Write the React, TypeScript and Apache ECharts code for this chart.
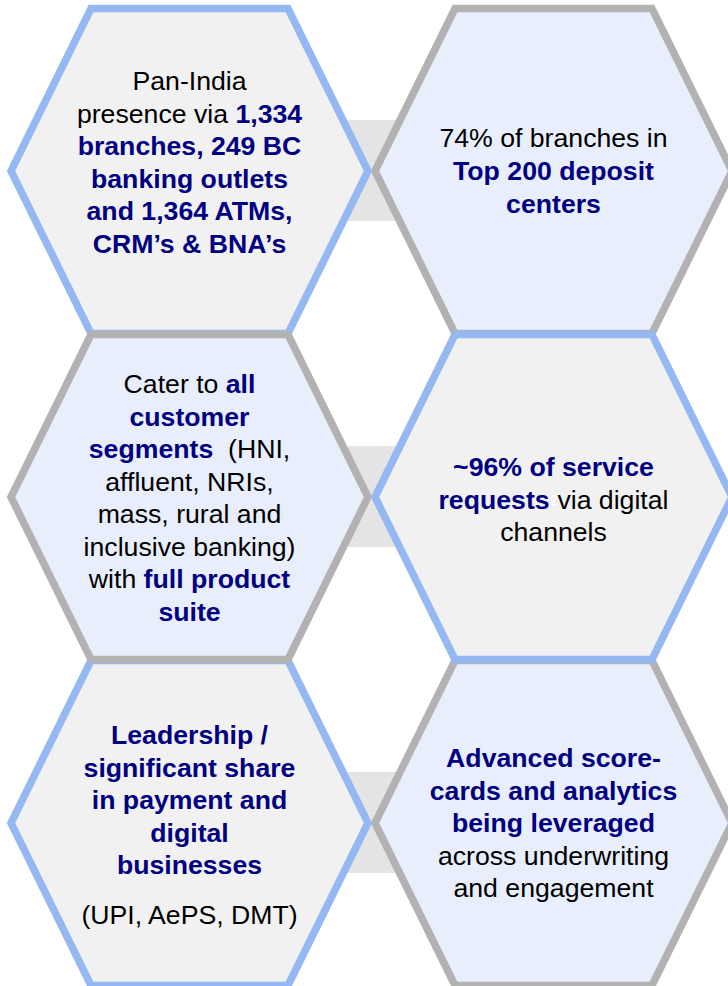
import React, { useEffect, useRef } from "react";
import * as echarts from "echarts";

// ---- Content (text of each hexagon; [text, style]) ----
// style: "n" normal black, "b" bold navy, "w" faint white slide-number artefact
type Seg = [string, "n" | "b" | "w"];

const panIndiaLines: Seg[][] = [
  [["Pan-India", "n"]],
  [["presence via ", "n"], ["1,334", "b"]],
  [["branches, 249 BC", "b"]],
  [["banking outlets", "b"]],
  [["and 1,364 ATMs,", "b"]],
  [["CRM’s & BNA’s", "b"]],
];

const branchesLines: Seg[][] = [
  [["74% of branches in", "n"]],
  [["Top 200 deposit", "b"]],
  [["centers", "b"]],
];

const segmentsLines: Seg[][] = [
  [["Cater to ", "n"], ["all", "b"]],
  [["customer", "b"]],
  [["segments", "b"], ["  (HNI,", "n"]],
  [["affluent, NRIs,", "n"]],
  [["mass, rural and", "n"]],
  [["inclusive banking)", "n"]],
  [["with ", "n"], ["full product", "b"]],
  [["suite", "b"]],
];

const serviceLines: Seg[][] = [
  [["~96% of service", "b"]],
  [["requests", "b"], ["2", "w"], ["via digital", "n"]],
  [["channels", "n"]],
];

const paymentsLines: Seg[][] = [
  [["Leadership /", "b"]],
  [["significant share", "b"]],
  [["in payment and", "b"]],
  [["digital", "b"]],
  [["businesses", "b"]],
  [["(UPI, AePS, DMT)", "n"]],
];

const analyticsLines: Seg[][] = [
  [["Advanced score-", "b"]],
  [["cards and analytics", "b"]],
  [["being leveraged", "b"]],
  [["across underwriting", "n"]],
  [["and engagement", "n"]],
];

// ---- Layout ----
const COL_X = [189.5, 553.5];
const ROW_TOP = [8.5, 334.5, 660.5];
const HEX_H = 325;
const HALF_W = 178.5;
const TOP_HALF_W = 98.5;

const BLUE = { stroke: "#95b8f2", fill: "#f1f1f1" };
const GREY = { stroke: "#b2b2b2", fill: "#e8eefc" };

const cells = [
  { col: 0, row: 0, look: BLUE, lines: panIndiaLines, ys: [81, 113.5, 146, 178.5, 211, 243.5] },
  { col: 1, row: 0, look: GREY, lines: branchesLines, ys: [138, 171, 204] },
  { col: 0, row: 2, look: BLUE, lines: paymentsLines, ys: [735, 767.5, 800, 832.5, 865, 915] },
  { col: 1, row: 2, look: GREY, lines: analyticsLines, ys: [758, 790.5, 823, 855.5, 888] },
  { col: 0, row: 1, look: GREY, lines: segmentsLines, ys: [384, 416.5, 449, 481.5, 514, 546.5, 579, 611.5] },
  { col: 1, row: 1, look: BLUE, lines: serviceLines, ys: [467, 499.5, 532] },
];

const FONT = "'Liberation Sans', Arial, Helvetica, sans-serif";
const FONT_SIZE = 26.67;

function hexPoints(cx: number, top: number): number[][] {
  const mid = top + HEX_H / 2;
  return [
    [cx - TOP_HALF_W, top],
    [cx + TOP_HALF_W, top],
    [cx + HALF_W, mid],
    [cx + TOP_HALF_W, top + HEX_H],
    [cx - TOP_HALF_W, top + HEX_H],
    [cx - HALF_W, mid],
  ];
}

function lineToRich(line: Seg[]): string {
  return line.map(([t, s]) => `{${s}|${t}}`).join("");
}

export default function App() {
  const ref = useRef<HTMLDivElement>(null);

  useEffect(() => {
    if (!ref.current) return;
    const chart = echarts.init(ref.current, undefined, { renderer: "svg" });

    const graphic: any[] = [];

    // connector bars behind each row
    ROW_TOP.forEach((top) => {
      const mid = top + HEX_H / 2;
      graphic.push({
        type: "rect",
        z: 1,
        shape: { x: 348, y: mid - 51, width: 55, height: 101 },
        style: { fill: "#e4e4e4" },
      });
    });

    cells.forEach((c) => {
      const cx = COL_X[c.col];
      const top = ROW_TOP[c.row];
      graphic.push({
        type: "polygon",
        z: c.row === 1 ? 3 : 2,
        shape: { points: hexPoints(cx, top) },
        style: {
          fill: c.look.fill,
          stroke: c.look.stroke,
          lineWidth: 7.5,
          lineJoin: "miter",
        },
      });
      c.lines.forEach((line, j) => {
        graphic.push({
          type: "text",
          z: 10,
          x: cx,
          y: c.ys[j],
          style: {
            text: lineToRich(line),
            align: "center",
            verticalAlign: "middle",
            fontFamily: FONT,
            fontSize: FONT_SIZE,
            fill: "#000000",
            rich: {
              n: { fontFamily: FONT, fontSize: FONT_SIZE, fill: "#000000", fontWeight: "normal" },
              b: { fontFamily: FONT, fontSize: FONT_SIZE, fill: "#000080", fontWeight: "bold" },
              w: { fontFamily: FONT, fontSize: 14, fill: "#ffffff", fontWeight: "normal" },
            },
          },
        });
      });
    });

    chart.setOption({ animation: false, backgroundColor: "#ffffff", graphic });

    return () => chart.dispose();
  }, []);

  return (
    <div
      ref={ref}
      style={{ position: "absolute", left: 0, top: 0, width: 728, height: 986, background: "#ffffff" }}
    />
  );
}
